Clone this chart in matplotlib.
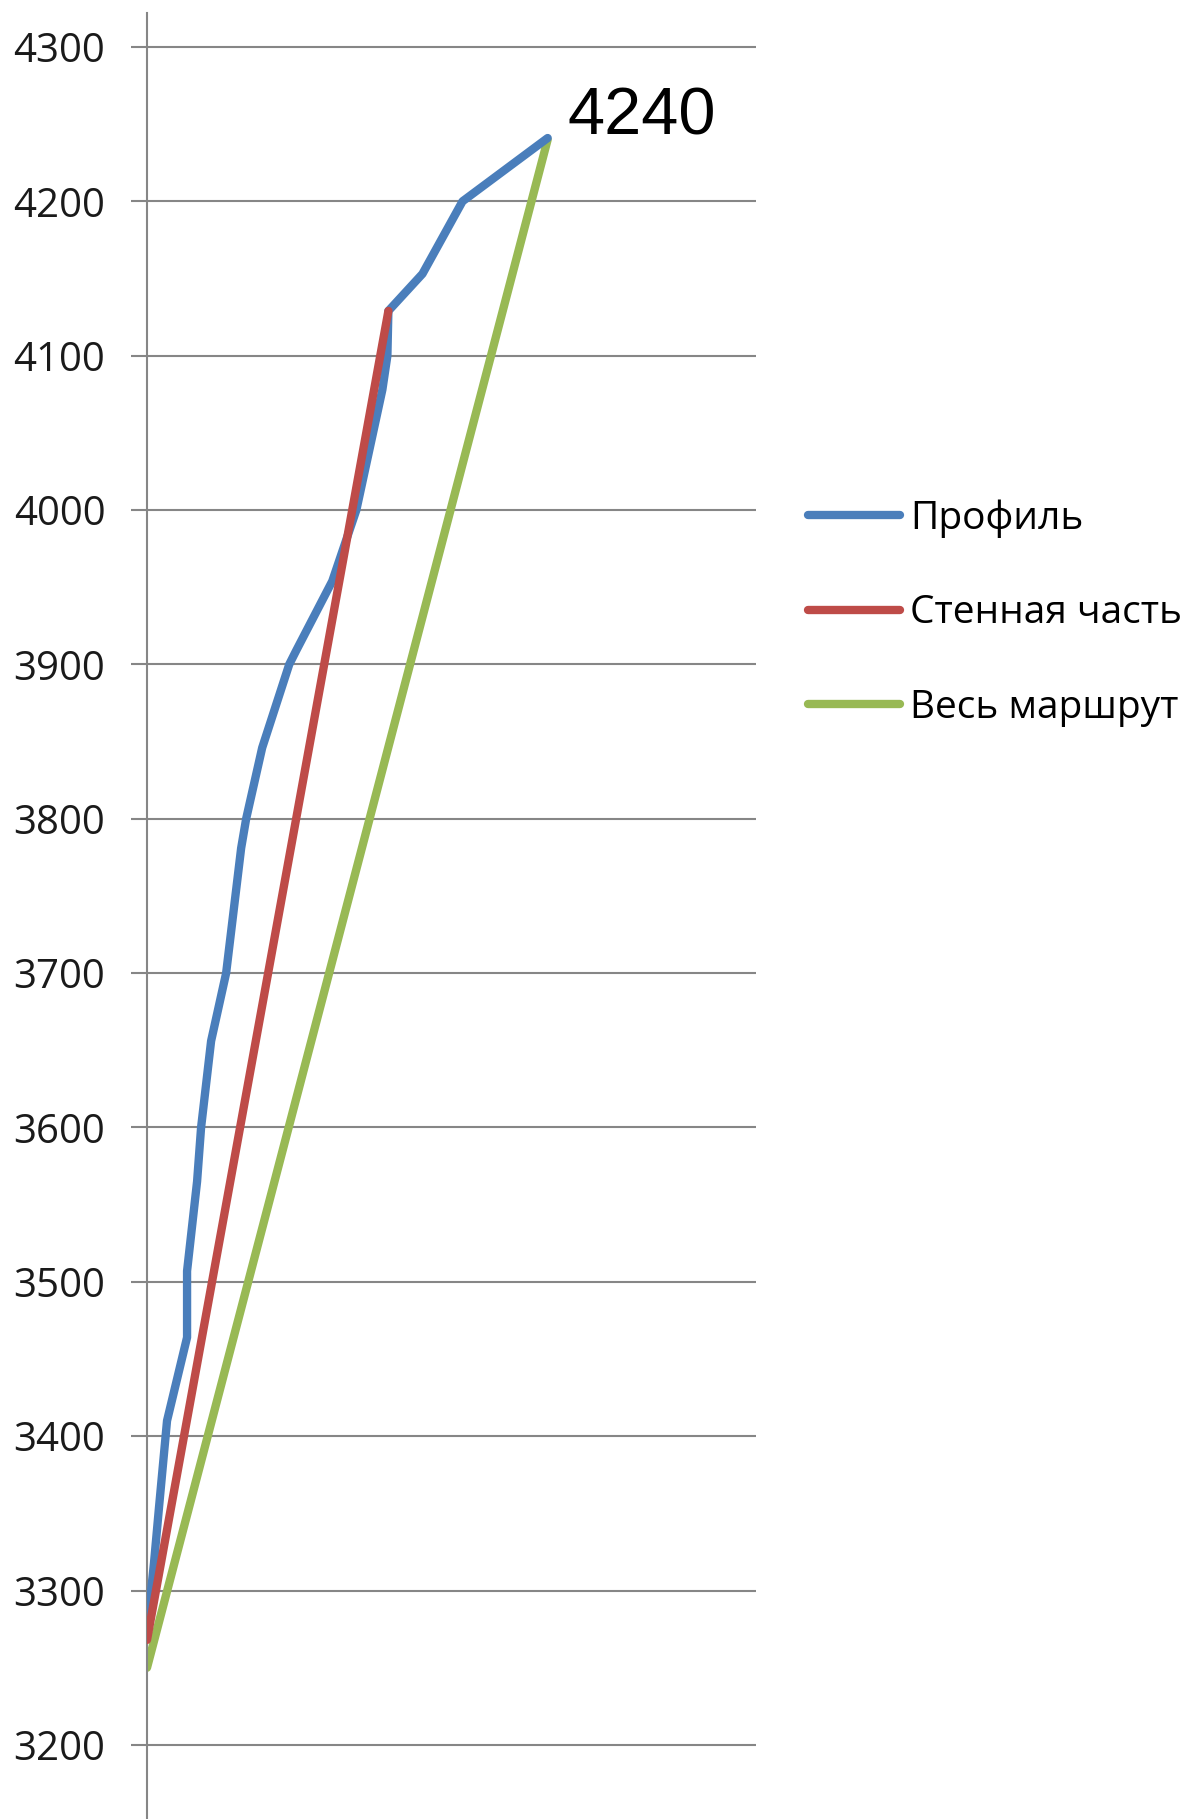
import matplotlib
matplotlib.use("Agg")
import matplotlib.pyplot as plt

# data (x is horizontal distance, arbitrary units)
profile_x = [0, 7, 12, 20, 40, 40, 50, 54, 64, 79, 94, 99, 115, 142, 149, 185, 209, 235, 240, 241, 275, 315, 400]
profile_y = [3274, 3318, 3354, 3410, 3464, 3507, 3565, 3600, 3656, 3700, 3781, 3800, 3846, 3900, 3909,
             3954, 4000, 4078, 4100, 4129, 4153, 4200, 4241]

wall_x = [0, 241]
wall_y = [3268, 4129]

route_x = [0, 400]
route_y = [3250, 4240]

yticks = [3200, 3300, 3400, 3500, 3600, 3700, 3800, 3900, 4000, 4100, 4200, 4300]
labels = ["Профиль", "Стенная часть", "Весь маршрут"]
peak_label = "4240"

plt.rcParams['font.family'] = ['Open Sans', 'DejaVu Sans']

W, H = 1201, 1819
fig = plt.figure(figsize=(W / 100, H / 100), dpi=100)
ax = fig.add_axes([147 / W, 0, (756 - 147) / W, (H - 13) / H])

lw = 6
ax.plot(profile_x, profile_y, color="#4A7EBB", lw=lw, solid_joinstyle="round", solid_capstyle="round",
        label=labels[0], zorder=3)
ax.plot(wall_x, wall_y, color="#BE4B48", lw=lw, solid_capstyle="round", label=labels[1], zorder=4)
ax.plot(route_x, route_y, color="#98B954", lw=lw, solid_capstyle="round", label=labels[2], zorder=2)

ax.set_xlim(0, 608)
ax.set_ylim(3152, 4322)
ax.set_yticks(yticks)
ax.set_xticks([])
ax.grid(axis="y", color="#868686", lw=1.5)
ax.set_axisbelow(True)
for s in ["top", "right", "bottom"]:
    ax.spines[s].set_visible(False)
ax.spines["left"].set_color("#868686")
ax.spines["left"].set_linewidth(1.5)
ax.tick_params(axis="y", length=11.5, width=1.5, color="#868686", pad=18.5, labelsize=29, labelcolor="#1a1a1a")

ax.annotate(peak_label, xy=(route_x[-1], route_y[-1]), xytext=(14, 3.6), textcoords="offset points",
            ha="left", va="baseline", fontsize=48, family=["Liberation Sans", "DejaVu Sans"])

fs = 28
fpx = fs * 100 / 72
fig.legend(loc="center left", bbox_to_anchor=(808 / W, 1 - 613 / H), frameon=False,
           fontsize=fs, handlelength=92 / fpx, handletextpad=10 / fpx, borderpad=0, borderaxespad=0,
           labelspacing=1.45)

fig.savefig("out.png", dpi=100)
